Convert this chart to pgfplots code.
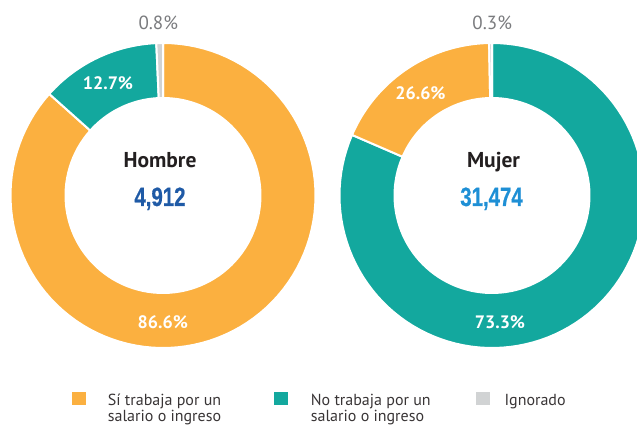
\documentclass[border=0pt]{standalone}
\usepackage{pgfplots}
\pgfplotsset{compat=1.18}
\usepackage{fontspec}
\setmainfont{PT Sans}
\newfontfamily\numfont[FakeStretch=0.77,FakeBold=0.6]{Liberation Sans}
\definecolor{cOr}{HTML}{FBB040}
\definecolor{cTe}{HTML}{13A89E}
\definecolor{cGr}{HTML}{D1D3D4}
\definecolor{cBlueA}{HTML}{1F5AA6}
\definecolor{cBlueB}{HTML}{1E8FD5}
\definecolor{cTxt}{HTML}{231F20}
\definecolor{cPct}{HTML}{7A7B7E}
\def\Ro{152.5}
\def\Ri{97.5}
% #1,#2 centre; #3,#4 cumulative share (per cent) at start and end, clockwise from the top; #5 colour
\newcommand{\seg}[5]{%
  \addplot[fill=#5, draw=white, line width=2pt, line join=round, domain=0:2, samples=201, variable=\t]
  ({#1 + (\t<1.005 ? \Ro*cos(90-3.6*(#3+(#4-#3)*min(\t,1))) : \Ri*cos(90-3.6*(#4+(#3-#4)*max(\t-1.01,0)/0.99)))},
   {#2 + (\t<1.005 ? \Ro*sin(90-3.6*(#3+(#4-#3)*min(\t,1))) : \Ri*sin(90-3.6*(#4+(#3-#4)*max(\t-1.01,0)/0.99)))}) -- cycle;
}
\begin{document}
\begin{tikzpicture}
\useasboundingbox (0,0) rectangle (637pt,425pt);
\begin{axis}[at={(0pt,0pt)}, anchor=south west, width=637pt, height=425pt, scale only axis,
  xmin=0, xmax=637, ymin=0, ymax=425, hide axis, clip=true]
% Hombre
\seg{163}{229.5}{0}{86.6}{cOr}
\seg{163}{229.5}{86.6}{99.3}{cTe}
\seg{163}{229.5}{99.3}{100}{cGr}
% Mujer
\seg{492}{229.5}{0}{81.5}{cTe}
\seg{492}{229.5}{81.5}{99.7}{cOr}
\seg{492}{229.5}{99.7}{100}{cGr}
% centre labels
\node[anchor=base, font=\bfseries\fontsize{21.5}{24}\selectfont, text=cTxt] at (axis cs:160,257.3) {Hombre};
\node[anchor=base, font=\numfont\bfseries\fontsize{26.5}{30}\selectfont, text=cBlueA] at (axis cs:160,219) {4,912};
\node[anchor=base, font=\bfseries\fontsize{21.5}{24}\selectfont, text=cTxt] at (axis cs:493.5,257.3) {Mujer};
\node[anchor=base, font=\numfont\bfseries\fontsize{26.5}{30}\selectfont, text=cBlueB] at (axis cs:491.5,219) {31,474};
% percentages
\node[anchor=base, font=\fontsize{19}{22}\selectfont, text=cPct] at (axis cs:158.3,395) {0.8\%};
\node[anchor=base, font=\bfseries\fontsize{18}{21}\selectfont, text=white] at (axis cs:108,335.7) {12.7\%};
\node[anchor=base, font=\bfseries\fontsize{18}{21}\selectfont, text=white] at (axis cs:162.8,96.7) {86.6\%};
\node[anchor=base, font=\fontsize{19}{22}\selectfont, text=cPct] at (axis cs:492.2,395) {0.3\%};
\node[anchor=base, font=\bfseries\fontsize{18}{21}\selectfont, text=white] at (axis cs:420.5,325) {26.6\%};
\node[anchor=base, font=\bfseries\fontsize{18}{21}\selectfont, text=white] at (axis cs:500,96.7) {73.3\%};
% legend
\fill[cOr] (axis cs:72.3,20) rectangle (axis cs:86,33.3);
\fill[cTe] (axis cs:274.3,20) rectangle (axis cs:288,33.3);
\fill[cGr] (axis cs:476.3,20) rectangle (axis cs:490,33.3);
\begin{scope}[every node/.style={anchor=base west, inner sep=0pt, font=\fontsize{16}{18}\selectfont, text=cTxt!90}]
\node at (axis cs:107.7,19.3) {Sí trabaja por un};
\node at (axis cs:107.7,3.3) {salario o ingreso};
\node at (axis cs:310.7,19.3) {No trabaja por un};
\node at (axis cs:310.7,3.3) {salario o ingreso};
\node at (axis cs:504.3,19.3) {Ignorado};
\end{scope}
\end{axis}
\end{tikzpicture}
\end{document}
